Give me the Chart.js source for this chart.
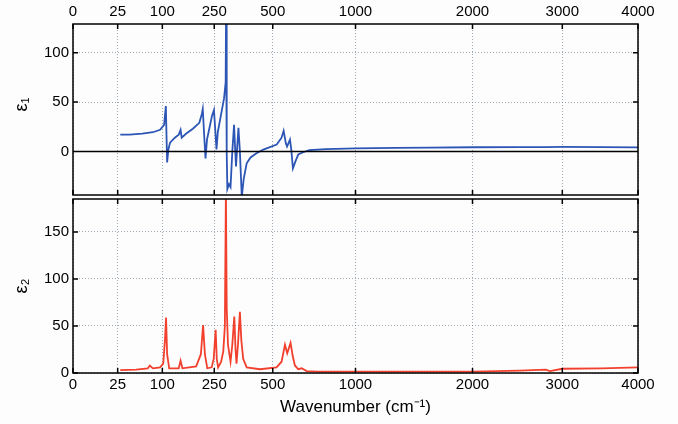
<!DOCTYPE html>
<html>
<head>
<meta charset="utf-8">
<script src="https://cdn.jsdelivr.net/npm/chart.js@4.4.1/dist/chart.umd.min.js"></script>
<style>
  html, body { margin: 0; padding: 0; background: #fdfdfd; }
  #wrap { position: relative; width: 678px; height: 424px; }
  #wrap canvas { position: absolute; left: 0; }
  #top { top: 0; }
  #bottom { top: 198px; }
</style>
</head>
<body>
<div id="wrap">
  <canvas id="top" width="678" height="198"></canvas>
  <canvas id="bottom" width="678" height="226"></canvas>
</div>
<script>
// DATA
const xTickValues = [0, 25, 100, 250, 500, 1000, 2000, 3000, 4000];
const eps1Ticks = [0, 50, 100];
const eps2Ticks = [0, 50, 100, 150];

// eps1 (real part) vs wavenumber, cm-1
const wn1 = [28, 40, 60, 80, 95, 104, 108, 111, 114, 118, 130, 140, 145, 148, 160, 180, 200, 208, 211, 215, 220,
  225, 232, 242, 249, 254, 258, 263, 271, 286, 292, 293.5, 296, 298.5, 305, 311, 318, 325, 329, 333, 338, 343, 349,
  357, 365, 378, 395, 420, 454, 520, 545, 556, 568, 574, 590, 597, 606, 620, 636, 660, 700, 800, 1000, 1300, 1600,
  2000, 2500, 2800, 3000, 3500, 4000];
const eps1 = [17, 17, 18, 19.5, 22, 27, 46, -11, 2, 9, 14, 17, 22, 14, 18, 23, 29, 38, 43, 20, -7,
  12, 22, 36, 42, 20, 2, 20, 32, 54, 70, 140, 0, -38, -33, -36, 0, 27, 5, -15, 5, 24, 0,
  -46, -28, -12, -6, -2, 2, 7, 14, 21, 8, 5, 12, 2, -17, -10, -3, -1, 1.5, 2.5, 3.2, 3.7, 4,
  4.3, 4.5, 4.5, 4.6, 4.4, 4.2];

// eps2 (imaginary part) vs wavenumber, cm-1
const wn2 = [28, 50, 70, 74, 80, 95, 102, 106, 108.5, 111, 116, 140, 145, 150, 190, 205, 212, 218, 226, 241, 248,
  255, 259, 264, 275, 283, 289, 293, 296, 301, 311, 318, 326, 331, 335, 341, 349, 355, 363, 378, 438, 519, 545,
  563, 575, 593, 605, 617, 636, 655, 684, 750, 1000, 1500, 2000, 2500, 2800, 2850, 3000, 3500, 4000];
const eps2 = [3, 3.5, 5, 8, 5, 6, 10, 35, 59, 20, 5, 5, 13, 5, 7, 20, 51, 20, 5, 6, 15,
  46, 15, 6, 12, 23, 50, 195, 70, 30, 12, 30, 60, 25, 10, 30, 65, 35, 15, 6, 4, 6, 12,
  30, 21, 32, 18, 8, 4, 5, 2, 1.5, 1.5, 1.5, 1.5, 2.5, 3.5, 2, 4.5, 5, 6];

// square-root wavenumber axis
class SqrtScale extends Chart.LinearScale {
  static id = 'sqrt';
  static defaults = Chart.LinearScale.defaults;
  buildTicks() {
    return xTickValues.map(v => ({ value: v }));
  }
  getPixelForValue(value) {
    if (value === null || isNaN(value)) return NaN;
    const a = Math.sqrt(this.min), b = Math.sqrt(this.max);
    return this.getPixelForDecimal((Math.sqrt(Math.max(value, 0)) - a) / (b - a));
  }
  getValueForPixel(pixel) {
    const a = Math.sqrt(this.min), b = Math.sqrt(this.max);
    const s = a + this.getDecimalForPixel(pixel) * (b - a);
    return s * s;
  }
}
Chart.register(SqrtScale);

// box, inward ticks and zero line (matlab style)
const framePlugin = {
  id: 'frame',
  afterDraw(chart, args, opts) {
    const { ctx, chartArea: a, scales } = chart;
    const tl = 5;
    ctx.save();
    ctx.strokeStyle = '#000';
    ctx.lineWidth = 1.5;
    ctx.beginPath();
    if (opts.zeroLine) {
      const y0 = scales.y.getPixelForValue(0);
      ctx.moveTo(a.left, y0);
      ctx.lineTo(a.right, y0);
    }
    scales.x.ticks.forEach((t, i) => {
      const x = scales.x.getPixelForTick(i);
      ctx.moveTo(x, a.top); ctx.lineTo(x, a.top + tl);
      ctx.moveTo(x, a.bottom); ctx.lineTo(x, a.bottom - tl);
    });
    scales.y.ticks.forEach((t, i) => {
      const y = scales.y.getPixelForTick(i);
      ctx.moveTo(a.left, y); ctx.lineTo(a.left + tl, y);
      ctx.moveTo(a.right, y); ctx.lineTo(a.right - tl, y);
    });
    ctx.stroke();
    ctx.strokeRect(a.left, a.top, a.right - a.left, a.bottom - a.top);
    ctx.restore();
  }
};

const FONT = { family: 'Liberation Sans, Arial, sans-serif', size: 15 };
const gridStyle = { color: 'rgba(95,115,135,0.6)', lineWidth: 1, drawTicks: false };
const noPad = s => { s.paddingTop = 0; s.paddingBottom = 0; s.paddingLeft = 0; s.paddingRight = 0; };

function xAxis(position, height, title) {
  return {
    type: 'sqrt',
    position,
    min: 0,
    max: 4000,
    grid: gridStyle,
    border: { display: false, dash: [1, 2] },
    ticks: { color: '#000', font: FONT, padding: 3, autoSkip: false, maxRotation: 0,
      callback: v => String(v) },
    title: title ? { display: true, text: title, color: '#000',
      font: { family: FONT.family, size: 17 }, padding: { top: 0, bottom: 6 } } : { display: false },
    afterFit: s => { s.height = height; noPad(s); }
  };
}

function yAxis(min, max, tickVals, title) {
  return {
    min,
    max,
    grid: gridStyle,
    border: { display: false, dash: [1, 2] },
    ticks: { color: '#000', font: FONT, padding: 4, callback: v => String(v) },
    afterBuildTicks: s => { s.ticks = tickVals.map(v => ({ value: v })); },
    title: { display: true, text: title, color: '#000',
      font: { family: FONT.family, size: 18 }, padding: { top: 11, bottom: 0 } },
    afterFit: s => { s.width = 73; noPad(s); }
  };
}

function lineSet(wn, vals, color) {
  return {
    data: wn.map((w, i) => ({ x: w, y: vals[i] })),
    borderColor: color,
    borderWidth: 1.8,
    pointRadius: 0,
    tension: 0,
    fill: false
  };
}

const common = {
  type: 'line',
  plugins: [framePlugin]
};

new Chart(document.getElementById('top'), {
  ...common,
  data: { datasets: [lineSet(wn1, eps1, '#2c55b5')] },
  options: {
    responsive: false,
    animation: false,
    layout: { padding: { left: 0, right: 40, top: 0, bottom: 3 } },
    plugins: { legend: { display: false }, tooltip: { enabled: false }, frame: { zeroLine: true } },
    scales: {
      x: xAxis('top', 24, null),
      y: yAxis(-44, 129, eps1Ticks, '  ε₁')
    }
  }
});

new Chart(document.getElementById('bottom'), {
  ...common,
  data: { datasets: [lineSet(wn2, eps2, '#f2402e')] },
  options: {
    responsive: false,
    animation: false,
    layout: { padding: { left: 0, right: 40, top: 1, bottom: 0 } },
    plugins: { legend: { display: false }, tooltip: { enabled: false }, frame: { zeroLine: false } },
    scales: {
      x: xAxis('bottom', 51, 'Wavenumber (cm⁻¹)'),
      y: yAxis(0, 185, eps2Ticks, 'ε₂')
    }
  }
});
</script>
</body>
</html>
